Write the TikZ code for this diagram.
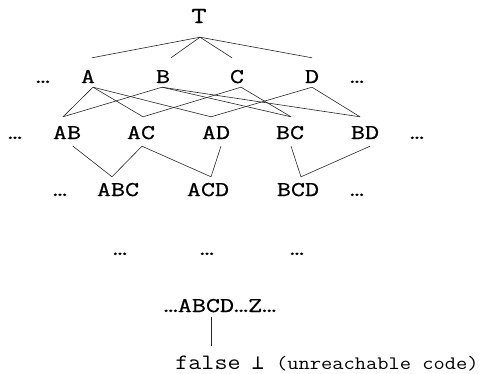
\documentclass[tikz,border=0pt]{standalone}
\usepackage{fontspec}
\newfontfamily\labfont[FakeStretch=1.3,FakeBold=0.7]{Latin Modern Mono}
\newfontfamily\codefont[FakeStretch=1.15]{Latin Modern Mono}
\newfontfamily\symfont{DejaVu Sans Mono}
\begin{document}
\begin{tikzpicture}[x=1pt,y=-1pt,
  lab/.style={anchor=base,inner sep=0pt,font=\labfont\fontsize{21}{21}\selectfont},
  toplab/.style={lab,font=\labfont\fontsize{23}{23}\selectfont,text depth=14pt},
  rowtwo/.style={lab,text height=25pt,text depth=4pt},
  rowthree/.style={lab,text height=22pt,text depth=7pt},
  rowfour/.style={lab,text height=19pt},
  chain/.style={lab,text depth=5pt},
  code/.style={anchor=base,inner sep=0pt,font=\codefont\fontsize{22}{22}\selectfont},
  note/.style={anchor=base west,inner sep=0pt,font=\codefont\fontsize{19}{19}\selectfont},
  edge/.style={line width=0.6pt,draw=black!85}]
\useasboundingbox (0,0) rectangle (483,373);

% top element
\node[toplab] (T) at (199,23) {T};

% single letters
\node[lab] (l2) at (43,83) {…};
\node[rowtwo] (A) at (88,83) {A};
\node[rowtwo] (B) at (163,83) {B};
\node[rowtwo] (C) at (237,83) {C};
\node[rowtwo] (D) at (312,83) {D};
\node[lab] (r2) at (357,83) {…};

% pairs
\node[lab] (l3) at (15,139) {…};
\node[rowthree] (AB) at (67,139) {AB};
\node[rowthree] (AC) at (141,139) {AC};
\node[rowthree] (AD) at (216,139) {AD};
\node[rowthree] (BC) at (290,139) {BC};
\node[rowthree] (BD) at (365,139) {BD};
\node[lab] (r3) at (417,139) {…};

% triples
\node[lab] (l4) at (60,196) {…};
\node[rowfour] (ABC) at (118,196) {ABC};
\node[rowfour] (ACD) at (208,196) {ACD};
\node[rowfour] (BCD) at (298,196) {BCD};
\node[lab] (r4) at (357,196) {…};

% further levels
\node[lab] (m1) at (120,255) {…};
\node[lab] (m2) at (207,255) {…};
\node[lab] (m3) at (297,255) {…};

% everything at once
\node[chain] (all) at (220,312) {…ABCD…Z…};
\node[code,text height=23pt] (false) at (208,369) {false};
\node[anchor=base,inner sep=0pt,font=\symfont\fontsize{20}{20}\selectfont] (bot) at (258,369) {⊥};
\node[note] (why) at (276,369) {(unreachable code)};

% T to single letters
\draw[edge] ([xshift=1pt]T.south) -- ([xshift=4pt]A.north);
\draw[edge] ([xshift=1pt]T.south) -- ([xshift=8pt]B.north);
\draw[edge] ([xshift=1pt]T.south) -- ([xshift=-5pt]C.north);
\draw[edge] ([xshift=1pt]T.south) -- (D.north);

% single letters to pairs
\draw[edge] ([xshift=5pt]A.south) -- ([xshift=-4pt]AB.north);
\draw[edge] ([xshift=5pt]A.south) -- ([xshift=2pt]AC.north);
\draw[edge] ([xshift=5pt]A.south) -- ([xshift=-5pt]AD.north);
\draw[edge] ([xshift=-1pt]B.south) -- ([xshift=-4pt]AB.north);
\draw[edge] ([xshift=-1pt]B.south) -- ([xshift=1pt]BC.north);
\draw[edge] ([xshift=-1pt]B.south) -- ([xshift=-5pt]BD.north);
\draw[edge] ([xshift=4pt]C.south) -- ([xshift=2pt]AC.north);
\draw[edge] ([xshift=4pt]C.south) -- ([xshift=1pt]BC.north);
\draw[edge] (D.south) -- ([xshift=-5pt]AD.north);
\draw[edge] (D.south) -- ([xshift=-5pt]BD.north);

% pairs to triples
\draw[edge] ([xshift=6pt]AB.south) -- ([xshift=-6pt]ABC.north);
\draw[edge] ([xshift=1pt]AC.south) -- ([xshift=-6pt]ABC.north);
\draw[edge] ([xshift=1pt]AC.south) -- ([xshift=3pt]ACD.north);
\draw[edge] ([xshift=5pt]AD.south) -- ([xshift=3pt]ACD.north);
\draw[edge] ([xshift=1pt]BC.south) -- ([xshift=3pt]BCD.north);
\draw[edge] ([xshift=5pt]BD.south) -- ([xshift=3pt]BCD.north);

% bottom element
\draw[edge] ([xshift=-9pt]all.south) -- ([xshift=3pt]false.north);
\end{tikzpicture}
\end{document}
